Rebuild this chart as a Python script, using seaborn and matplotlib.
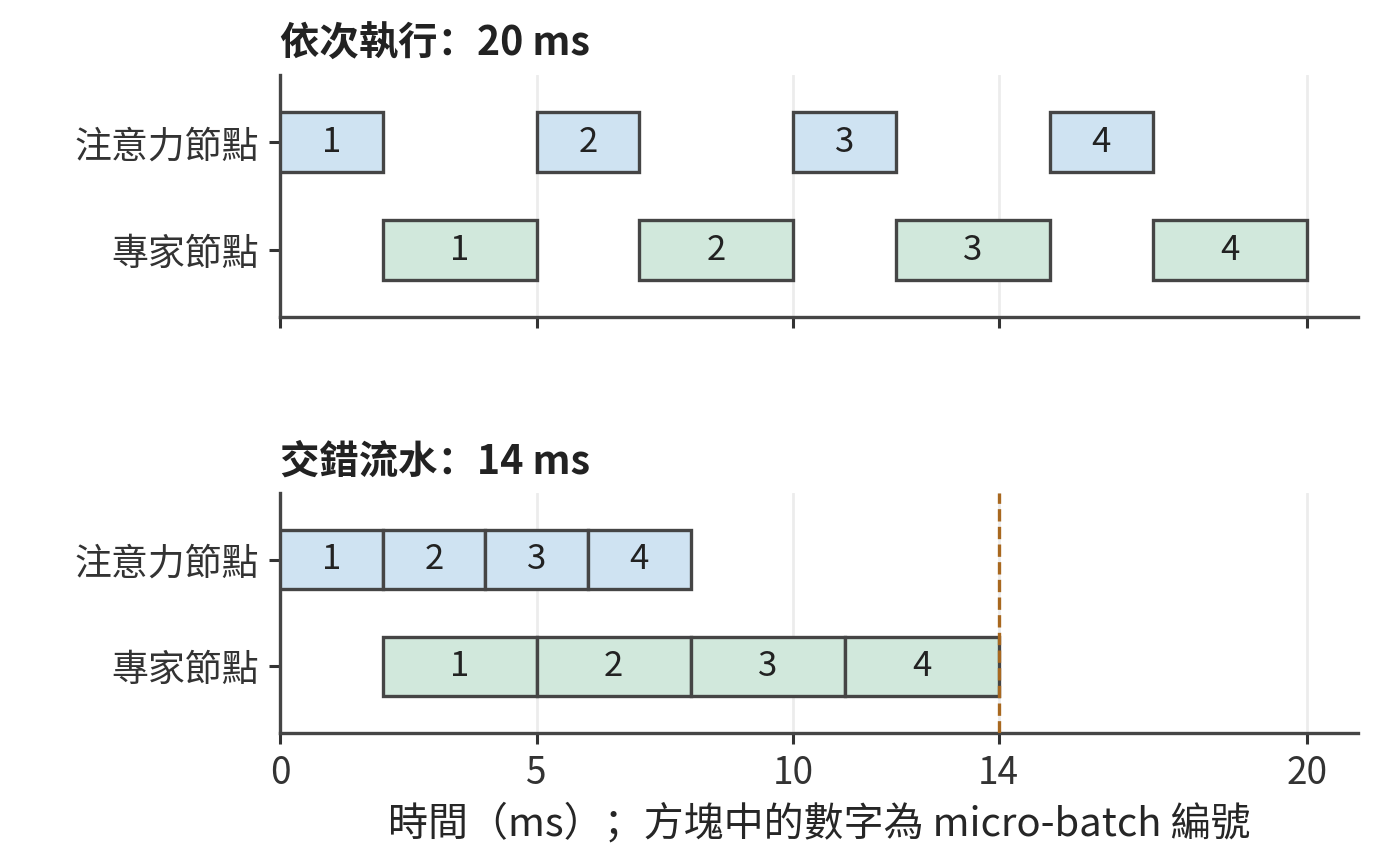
import matplotlib
matplotlib.use("Agg")
import matplotlib.pyplot as plt
import seaborn as sns

NODES = ["注意力節點", "專家節點"]
BATCH_IDS = [1, 2, 3, 4]

# 依次執行 (sequential)
SEQ_ATTN_START = [0, 5, 10, 15]
SEQ_ATTN_DUR = [2, 2, 2, 2]
SEQ_EXPERT_START = [2, 7, 12, 17]
SEQ_EXPERT_DUR = [3, 3, 3, 3]
SEQ_TOTAL = 20

# 交錯流水 (pipelined)
PIPE_ATTN_START = [0, 2, 4, 6]
PIPE_ATTN_DUR = [2, 2, 2, 2]
PIPE_EXPERT_START = [2, 5, 8, 11]
PIPE_EXPERT_DUR = [3, 3, 3, 3]
PIPE_TOTAL = 14

X_TICKS = [0, 5, 10, 14, 20]

BLUE = "#cfe3f2"
GREEN = "#d1e8dc"
EDGE = "#454545"
MARK = "#a8681f"

sns.set_theme(style="white")
plt.rcParams["font.family"] = ["Noto Sans CJK SC", "DejaVu Sans"]
plt.rcParams["axes.edgecolor"] = EDGE
plt.rcParams["xtick.color"] = "#333333"
plt.rcParams["ytick.color"] = "#333333"
plt.rcParams["text.color"] = "#222222"


def draw_lane(ax, row, starts, durs, color):
    ax.barh([row] * len(starts), durs, left=starts, height=0.55,
            color=color, edgecolor=EDGE, linewidth=1.2, zorder=3)
    for s, d, b in zip(starts, durs, BATCH_IDS):
        ax.text(s + d / 2, row, str(b), ha="center", va="center",
                fontsize=12.5, color="#222222", zorder=4)


def style_axis(ax, title):
    ax.set_xlim(0, 21)
    ax.set_ylim(1.62, -0.62)
    ax.set_yticks([0, 1])
    ax.set_yticklabels(NODES, fontsize=13.3)
    ax.set_xticks(X_TICKS)
    ax.tick_params(axis="both", direction="out", length=4, width=1.1,
                   left=True, bottom=True, labelsize=13.3)
    for x in X_TICKS:
        ax.axvline(x, color="#ececec", linewidth=1.0, zorder=0)
    ax.set_title(title, loc="left", fontsize=14.2, fontweight="bold", pad=7)
    sns.despine(ax=ax)
    for sp in ("left", "bottom"):
        ax.spines[sp].set_linewidth(1.2)


fig = plt.figure(figsize=(7, 4.32), dpi=200)
ax1 = fig.add_axes([0.2, 0.633, 0.77, 0.28])
ax2 = fig.add_axes([0.2, 0.152, 0.77, 0.277])

draw_lane(ax1, 0, SEQ_ATTN_START, SEQ_ATTN_DUR, BLUE)
draw_lane(ax1, 1, SEQ_EXPERT_START, SEQ_EXPERT_DUR, GREEN)
style_axis(ax1, f"依次執行：{SEQ_TOTAL} ms")
ax1.tick_params(axis="x", labelbottom=False)

draw_lane(ax2, 0, PIPE_ATTN_START, PIPE_ATTN_DUR, BLUE)
draw_lane(ax2, 1, PIPE_EXPERT_START, PIPE_EXPERT_DUR, GREEN)
style_axis(ax2, f"交錯流水：{PIPE_TOTAL} ms")
ax2.axvline(PIPE_TOTAL, color=MARK, linestyle="--", linewidth=1.2, zorder=5)
ax2.set_xlabel("時間（ms）；方塊中的數字為 micro-batch 編號", fontsize=14.4, labelpad=4)

fig.savefig("out.png", dpi=200)
